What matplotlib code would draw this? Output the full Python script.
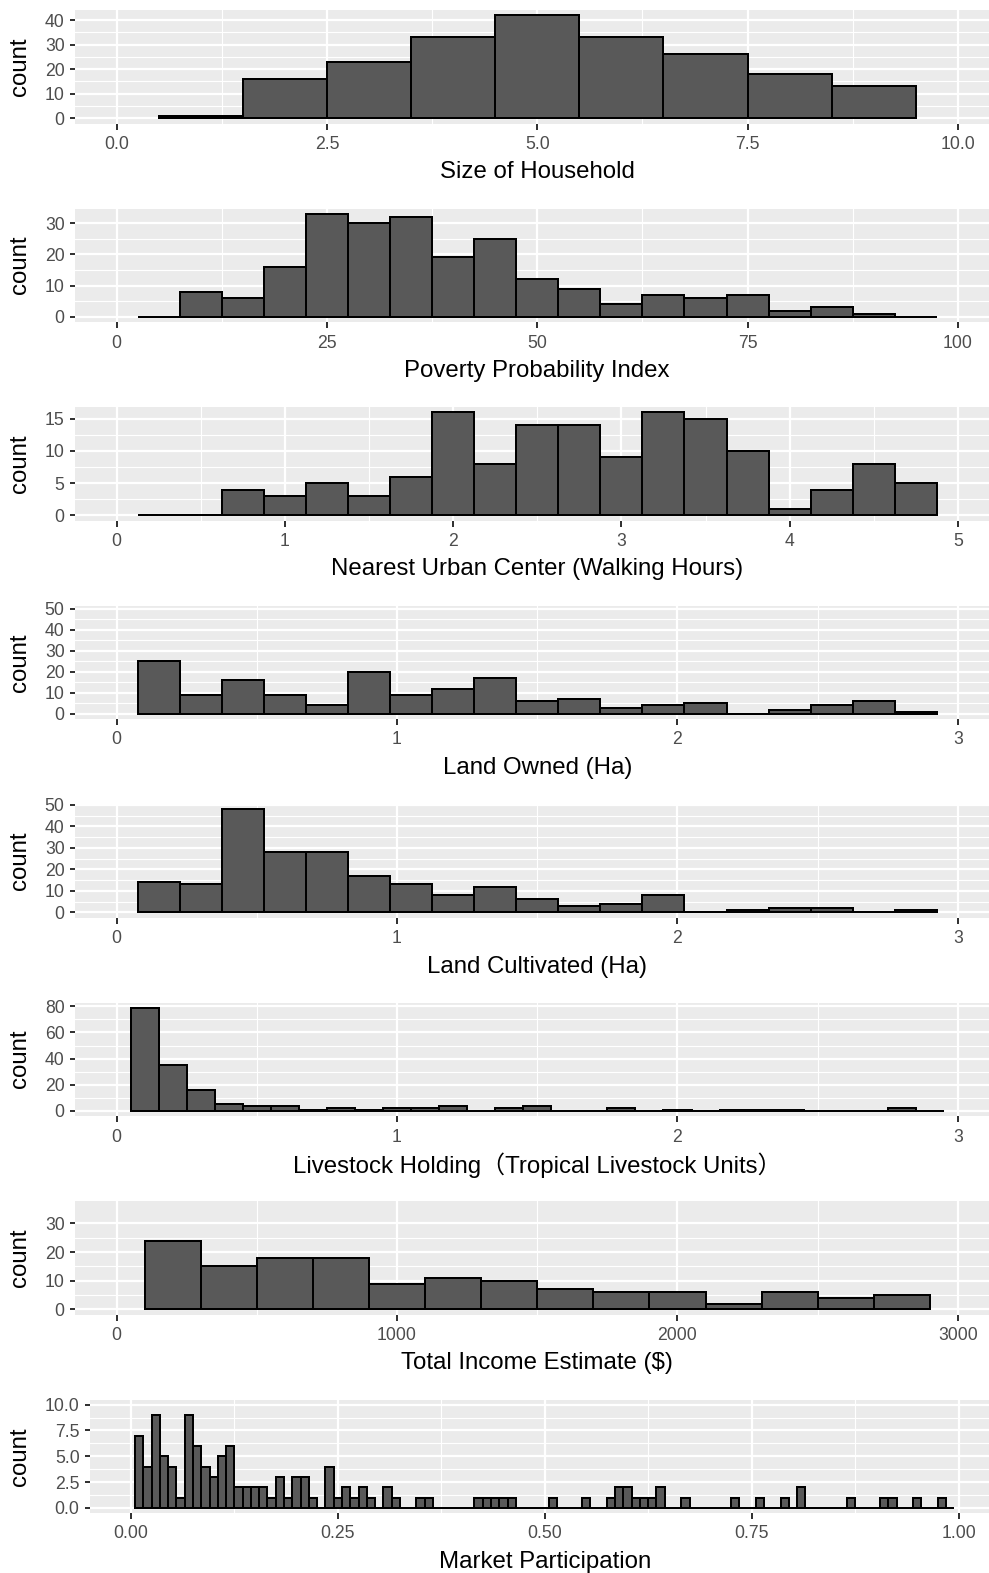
import numpy as np
import matplotlib
matplotlib.use('Agg')
import matplotlib.pyplot as plt

plt.rcParams['font.family'] = ['Liberation Sans', 'Noto Sans CJK SC', 'DejaVu Sans']

# bin counts
household_counts = [1, 16, 23, 33, 42, 33, 26, 18, 13]
ppi_counts = [0, 8, 6, 16, 33, 30, 32, 19, 25, 12, 9, 4, 7, 6, 7, 2, 3, 1, 0]
urban_counts = [0, 0, 4, 3, 5, 3, 6, 16, 8, 14, 14, 9, 16, 15, 10, 1, 4, 8, 5]
land_owned_counts = [25, 9, 16, 9, 4, 20, 9, 12, 17, 6, 7, 3, 4, 5, 0, 2, 4, 6, 1]
land_cult_counts = [14, 13, 48, 28, 28, 17, 13, 8, 12, 6, 3, 4, 8, 0, 1, 2, 2, 0, 1]
livestock_counts = [79, 35, 16, 5, 4, 4, 1, 2, 1, 2, 2, 4, 0, 2, 4, 0, 0, 2, 0, 1,
                    0, 1, 1, 1, 0, 0, 0, 2, 0]
income_counts = [24, 15, 18, 18, 9, 11, 10, 7, 6, 6, 2, 6, 4, 5]
market_counts = [7, 4, 9, 5, 4, 1, 9, 6, 4, 3, 5, 6, 2, 2, 2, 2, 1, 3, 1, 3,
                 3, 1, 0, 4, 1, 2, 1, 2, 1, 0, 2, 1, 0, 0, 1, 1, 0, 0, 0, 0,
                 0, 1, 1, 1, 1, 1, 0, 0, 0, 0, 1, 0, 0, 0, 1, 0, 0, 1, 2, 2,
                 1, 1, 1, 2, 0, 0, 1, 0, 0, 0, 0, 0, 1, 0, 0, 1, 0, 0, 1, 0,
                 2, 0, 0, 0, 0, 0, 1, 0, 0, 0, 1, 1, 0, 0, 1, 0, 0, 1, 0]

# first bin centre and bin width of each histogram
first_centers = [1, 5, 0.25, 0.15, 0.15, 0.1, 200, 0.01]
bin_widths = [1, 5, 0.25, 0.15, 0.15, 0.1, 200, 0.01]

x_labels = ['Size of Household', 'Poverty Probability Index',
            'Nearest Urban Center (Walking Hours)', 'Land Owned (Ha)',
            'Land Cultivated (Ha)',
            'Livestock Holding\uff08Tropical Livestock Units\uff09',
            'Total Income Estimate ($)', 'Market Participation']
x_limits = [10, 100, 5, 3, 3, 3, 3000, 1]
x_ticks = [[0, 2.5, 5, 7.5, 10], [0, 25, 50, 75, 100], [0, 1, 2, 3, 4, 5],
           [0, 1, 2, 3], [0, 1, 2, 3], [0, 1, 2, 3], [0, 1000, 2000, 3000],
           [0, 0.25, 0.5, 0.75, 1]]
x_tick_labels = [['0.0', '2.5', '5.0', '7.5', '10.0'], ['0', '25', '50', '75', '100'],
                 ['0', '1', '2', '3', '4', '5'], ['0', '1', '2', '3'], ['0', '1', '2', '3'],
                 ['0', '1', '2', '3'], ['0', '1000', '2000', '3000'],
                 ['0.00', '0.25', '0.50', '0.75', '1.00']]
y_limits = [42, 33, 16, 49, 48, 79, 36, 10]
y_ticks = [[0, 10, 20, 30, 40], [0, 10, 20, 30], [0, 5, 10, 15],
           [0, 10, 20, 30, 40, 50], [0, 10, 20, 30, 40, 50], [0, 20, 40, 60, 80],
           [0, 10, 20, 30], [0, 2.5, 5, 7.5, 10]]
y_tick_labels = [None] * 7 + [['0.0', '2.5', '5.0', '7.5', '10.0']]

all_counts = [household_counts, ppi_counts, urban_counts, land_owned_counts,
              land_cult_counts, livestock_counts, income_counts, market_counts]

W, H = 989, 1573
fig = plt.figure(figsize=(W / 144, H / 144), dpi=144)

for i, counts in enumerate(all_counts):
    top = 10 + 198.5 * i
    ph = 113.5
    left = 89.5 if i == 7 else 74.5
    right = 1000
    ax = fig.add_axes([left / W, 1 - (top + ph) / H, (right - left) / W, ph / H])

    centers = first_centers[i] + bin_widths[i] * np.arange(len(counts))
    ax.bar(centers, counts, width=bin_widths[i], color='#595959',
           edgecolor='black', linewidth=1.0, zorder=3)

    xm, ym = x_limits[i], y_limits[i]
    ax.set_xlim(-0.05 * xm, 1.05 * xm)
    ax.set_ylim(-0.05 * ym, 1.05 * ym)

    xt = x_ticks[i]
    yt = y_ticks[i]
    ax.set_xticks(xt)
    ax.set_xticklabels(x_tick_labels[i])
    ax.set_xticks([(a + b) / 2 for a, b in zip(xt[:-1], xt[1:])], minor=True)
    ax.set_yticks(yt)
    if y_tick_labels[i] is not None:
        ax.set_yticklabels(y_tick_labels[i])
    ax.set_yticks([(a + b) / 2 for a, b in zip(yt[:-1], yt[1:])], minor=True)

    ax.set_facecolor('#EBEBEB')
    ax.grid(which='major', color='white', linewidth=1.1, zorder=0)
    ax.grid(which='minor', color='white', linewidth=0.55, zorder=0)
    ax.set_axisbelow(True)
    for s in ax.spines.values():
        s.set_visible(False)
    ax.tick_params(which='major', length=2.75, width=1.0, color='#333333',
                   labelcolor='#4D4D4D', labelsize=8.8, pad=2.2)
    ax.tick_params(axis='x', which='major', pad=3.5)
    ax.tick_params(which='minor', length=0)

    ax.set_xlabel(x_labels[i], fontsize=12, color='black', va='center')
    ax.xaxis.set_label_coords(0.5, -49 / ph)
    ax.set_ylabel('count', fontsize=12, color='black', va='center')
    ax.yaxis.set_label_coords((20 - left) / (right - left), 0.5)

fig.savefig('out.png', dpi=144)
